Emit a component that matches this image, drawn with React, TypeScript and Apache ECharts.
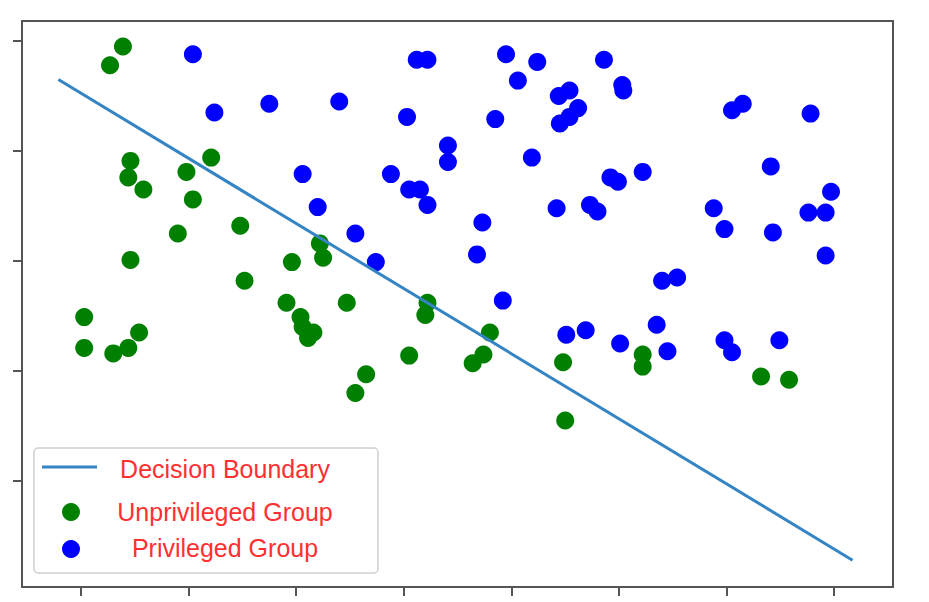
import React, { useEffect, useRef } from "react";
import * as echarts from "echarts";

const xTickValues = [0, 1, 2, 3, 4, 5, 6, 7];
const yTickValues = [0, 1, 2, 3, 4];

const unprivilegedGroup: [number, number][] = [
  [0.39, 3.95], [0.27, 3.78], [0.46, 2.91], [0.44, 2.76], [0.58, 2.65],
  [0.98, 2.81], [1.21, 2.94], [1.04, 2.56], [0.9, 2.25], [1.48, 2.32],
  [0.46, 2.01], [1.52, 1.82], [0.03, 1.49], [0.03, 1.21], [0.3, 1.16],
  [0.44, 1.21], [0.54, 1.35], [2.22, 2.16], [2.25, 2.03], [1.96, 1.99],
  [1.91, 1.62], [2.47, 1.62], [2.04, 1.49], [2.06, 1.4], [2.16, 1.35],
  [2.11, 1.3], [3.22, 1.62], [3.2, 1.51], [3.8, 1.35], [3.74, 1.15],
  [3.64, 1.07], [3.05, 1.14], [2.65, 0.97], [2.55, 0.8], [4.48, 1.08],
  [4.5, 0.55], [5.22, 1.15], [5.22, 1.04], [6.32, 0.95], [6.58, 0.92],
];

const privilegedGroup: [number, number][] = [
  [1.04, 3.88], [1.24, 3.35], [1.75, 3.43], [2.4, 3.45], [3.03, 3.31],
  [3.12, 3.83], [3.22, 3.83], [3.95, 3.88], [4.24, 3.81], [4.06, 3.64],
  [4.86, 3.83], [5.03, 3.6], [5.04, 3.55], [3.85, 3.29], [4.44, 3.5],
  [4.54, 3.55], [4.62, 3.39], [4.54, 3.31], [4.45, 3.25], [3.41, 3.05],
  [3.41, 2.9], [4.19, 2.94], [2.06, 2.79], [2.88, 2.79], [3.05, 2.65],
  [3.15, 2.65], [3.22, 2.51], [4.92, 2.76], [4.99, 2.72], [2.2, 2.49],
  [4.42, 2.48], [4.73, 2.51], [4.8, 2.45], [3.73, 2.35], [2.55, 2.25],
  [2.74, 1.99], [3.68, 2.06], [3.92, 1.64], [4.51, 1.33], [4.69, 1.37],
  [5.01, 1.25], [6.05, 3.37], [6.15, 3.43], [6.78, 3.34], [5.22, 2.81],
  [6.41, 2.86], [6.97, 2.63], [5.88, 2.48], [5.98, 2.29], [6.43, 2.26],
  [6.76, 2.44], [6.92, 2.44], [6.92, 2.05], [5.4, 1.82], [5.54, 1.85],
  [5.35, 1.42], [5.45, 1.18], [5.98, 1.28], [6.05, 1.17], [6.49, 1.28],
];

const decisionBoundary: [number, number][] = [
  [-0.21, 3.65],
  [7.17, -0.72],
];

const legendLabels = ["Decision Boundary", "Unprivileged Group", "Privileged Group"];

const LINE_COLOR = "#3584c4";
const GREEN = "#008000";
const BLUE = "#0000ff";
const TEXT_RED = "#ff3030";
const AXIS_COLOR = "#555555";
const LEGEND_FONT = '25px "Liberation Sans", Arial, sans-serif';

export default function App() {
  const ref = useRef<HTMLDivElement>(null);

  useEffect(() => {
    if (!ref.current) return;
    const chart = echarts.init(ref.current, null, { renderer: "svg" });
    const axisCommon = {
      type: "value" as const,
      axisLine: { show: true, onZero: false, lineStyle: { color: AXIS_COLOR, width: 2 } },
      axisLabel: { show: false },
      splitLine: { show: false },
    };
    chart.setOption({
      animation: false,
      backgroundColor: "#ffffff",
      grid: {
        left: 22,
        top: 21,
        right: 36,
        bottom: 15,
        show: true,
        borderColor: AXIS_COLOR,
        borderWidth: 2,
        backgroundColor: "#ffffff",
      },
      xAxis: {
        ...axisCommon,
        min: -0.548,
        max: 7.546,
        axisTick: {
          show: true,
          inside: false,
          length: 9,
          customValues: xTickValues,
          lineStyle: { color: AXIS_COLOR, width: 2 },
        },
      },
      yAxis: {
        ...axisCommon,
        min: -0.964,
        max: 4.182,
        axisTick: {
          show: true,
          inside: false,
          length: 9,
          customValues: yTickValues,
          lineStyle: { color: AXIS_COLOR, width: 2 },
        },
      },
      series: [
        {
          name: legendLabels[1],
          type: "scatter",
          data: unprivilegedGroup,
          symbolSize: 18,
          itemStyle: { color: GREEN, opacity: 1 },
          z: 2,
        },
        {
          name: legendLabels[2],
          type: "scatter",
          data: privilegedGroup,
          symbolSize: 18,
          itemStyle: { color: BLUE, opacity: 1 },
          z: 2,
        },
        {
          name: legendLabels[0],
          type: "line",
          data: decisionBoundary,
          symbol: "none",
          lineStyle: { color: LINE_COLOR, width: 3 },
          z: 3,
        },
      ],
      graphic: [
        {
          type: "group",
          z: 100,
          children: [
            {
              type: "rect",
              shape: { x: 34, y: 448, width: 344, height: 125, r: 4 },
              style: { fill: "rgba(255,255,255,0.85)", stroke: "#d0d0d0", lineWidth: 1.5 },
            },
            {
              type: "line",
              shape: { x1: 42, y1: 467, x2: 97, y2: 467 },
              style: { stroke: LINE_COLOR, lineWidth: 3 },
            },
            {
              type: "circle",
              shape: { cx: 71, cy: 512, r: 9 },
              style: { fill: GREEN },
            },
            {
              type: "circle",
              shape: { cx: 71, cy: 549, r: 9 },
              style: { fill: BLUE },
            },
            {
              type: "text",
              x: 225,
              y: 469,
              style: {
                text: legendLabels[0],
                fill: TEXT_RED,
                font: LEGEND_FONT,
                align: "center",
                verticalAlign: "middle",
              },
            },
            {
              type: "text",
              x: 225,
              y: 512,
              style: {
                text: legendLabels[1],
                fill: TEXT_RED,
                font: LEGEND_FONT,
                align: "center",
                verticalAlign: "middle",
              },
            },
            {
              type: "text",
              x: 225,
              y: 548,
              style: {
                text: legendLabels[2],
                fill: TEXT_RED,
                font: LEGEND_FONT,
                align: "center",
                verticalAlign: "middle",
              },
            },
          ],
        },
      ],
    });
    return () => chart.dispose();
  }, []);

  return (
    <div
      ref={ref}
      style={{ position: "absolute", left: 0, top: 0, width: 929, height: 602 }}
    />
  );
}
